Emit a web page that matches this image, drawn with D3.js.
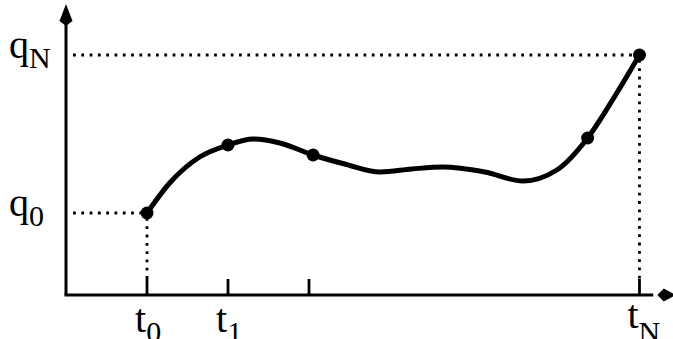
<!DOCTYPE html>
<html>
<head>
<meta charset="utf-8">
<script src="https://cdn.jsdelivr.net/npm/d3@7"></script>
<style>
  html, body { margin: 0; padding: 0; background: #fff; }
  svg { display: block; }
  text { font-family: "Liberation Serif", "Times New Roman", serif; fill: #000; }
</style>
</head>
<body>
<svg id="chart" width="673" height="339"></svg>
<script>
// Trajectory q(t) sampled along the smooth curve
const curveT = [10, 12.8, 16.5, 20, 23.1, 26.4, 30.5, 34.4, 38.8, 42.7, 46.5, 51.7, 56.4, 60.6, 64.4, 67.7, 70.8];
const curveQ = [82, 112, 138, 150, 156, 152, 140, 131, 123, 126, 128, 123, 114, 125, 157, 198, 240];

// Knot points marked on the curve
const knotT = [10, 20, 30.5, 64.4, 70.8];
const knotQ = [82, 150, 140, 157, 240];

// Ticks on the time axis and their labels
const tickT = [10, 20, 30, 70.8];
const tickLabels = [["t", "0"], ["t", "1"], null, ["t", "N"]];

// Marked levels on the q axis
const levelQ = [82, 240];
const levelLabels = [["q", "0"], ["q", "N"]];

const svg = d3.select("#chart");

const x = d3.scaleLinear().domain([0, 75]).range([66, 673.5]);
const y = d3.scaleLinear().domain([0, 290]).range([295, 5]);

// Dotted guides from start and end points to the axes
function dotted(x1, y1, x2, y2) {
  svg.append("line")
    .attr("x1", x1).attr("y1", y1).attr("x2", x2).attr("y2", y2)
    .attr("stroke", "#000").attr("stroke-width", 2.8)
    .attr("stroke-dasharray", "2.8,5.5").attr("fill", "none");
}
const tStart = knotT[0], tEnd = knotT[knotT.length - 1];
dotted(x(0) + 7, y(levelQ[1]), x(tEnd) - 3, y(levelQ[1]));
dotted(x(0) + 7, y(levelQ[0]), x(tStart) - 3, y(levelQ[0]));
dotted(x(tStart), y(levelQ[0]) + 5, x(tStart), y(0) - 16);
dotted(x(tEnd), y(levelQ[1]) + 5, x(tEnd), y(0) - 16);

// Axes
svg.append("line").attr("x1", x(0)).attr("y1", y(0)).attr("x2", x(0)).attr("y2", y(280))
  .attr("stroke", "#000").attr("stroke-width", 3);
svg.append("line").attr("x1", x(0) - 1.5).attr("y1", y(0)).attr("x2", x(72.5)).attr("y2", y(0))
  .attr("stroke", "#000").attr("stroke-width", 3);

// Arrowheads
const ax = x(0), ay = y(0);
svg.append("path")
  .attr("d", `M${ax},${y(291)} L${ax - 6.5},${y(274)} L${ax},${y(269)} L${ax + 6.5},${y(274)} Z`)
  .attr("fill", "#000");
svg.append("path")
  .attr("d", `M${x(75.3)},${ay} L${x(73.8)},${ay - 6.5} L${x(73)},${ay} L${x(73.8)},${ay + 6.5} Z`)
  .attr("fill", "#000");

// Tick marks
svg.selectAll("line.tick").data(tickT).join("line")
  .attr("class", "tick")
  .attr("x1", d => x(d)).attr("x2", d => x(d))
  .attr("y1", y(0)).attr("y2", y(0) - 16)
  .attr("stroke", "#000").attr("stroke-width", 2.8);

// Curve
const pts = curveT.map((t, i) => [x(t), y(curveQ[i])]);
svg.append("path")
  .attr("d", d3.line().curve(d3.curveMonotoneX)(pts))
  .attr("fill", "none").attr("stroke", "#000").attr("stroke-width", 5)
  .attr("stroke-linecap", "round");

// Knot markers
svg.selectAll("circle.knot").data(knotT).join("circle")
  .attr("class", "knot")
  .attr("cx", d => x(d)).attr("cy", (d, i) => y(knotQ[i]))
  .attr("r", 6.5).attr("fill", "#000");

// Labels with subscripts
function label(px, py, parts, dy) {
  const t = svg.append("text").attr("x", px).attr("y", py).style("font-size", "40px");
  t.append("tspan").text(parts[0]);
  t.append("tspan").attr("dy", dy).style("font-size", "30px").text(parts[1]);
}
tickT.forEach((d, i) => {
  if (!tickLabels[i]) return;
  const last = i === tickT.length - 1;
  label(x(d) - 12, last ? 328 : 332, tickLabels[i], last ? 14 : 10);
});
levelQ.forEach((d, i) => label(9, y(d) + 3, levelLabels[i], 10));
</script>
</body>
</html>
